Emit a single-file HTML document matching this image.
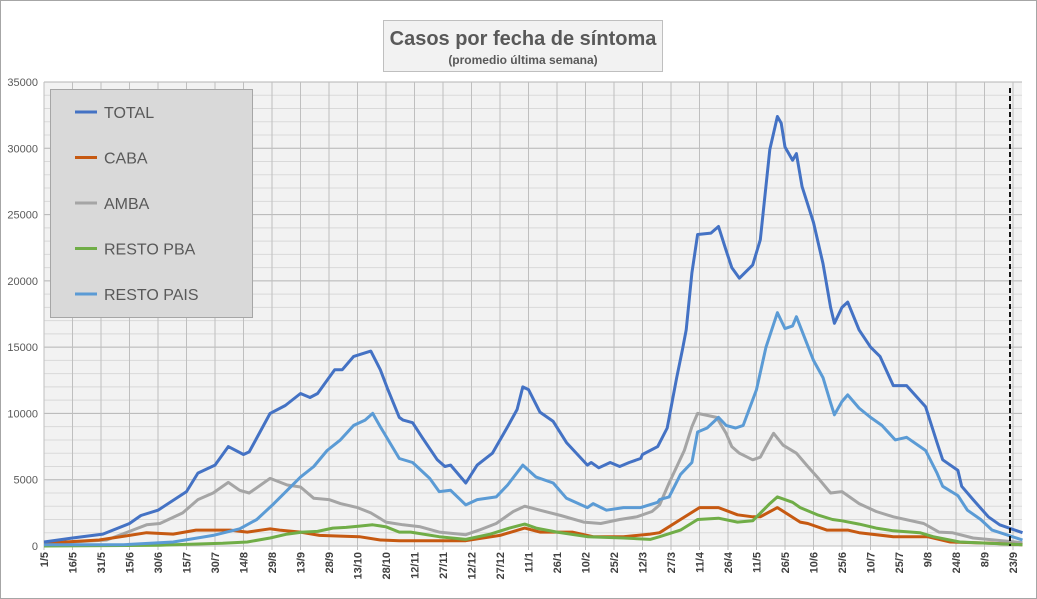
<!DOCTYPE html>
<html><head><meta charset="utf-8"><style>
html,body{margin:0;padding:0;background:#fff;}
svg{display:block;font-family:"Liberation Sans",sans-serif;}
</style></head><body>
<svg id="chart" width="1037" height="599" viewBox="0 0 1037 599">
<rect x="0.5" y="0.5" width="1036" height="598" fill="#fff" stroke="#a6a6a6"/>
<rect x="44" y="82" width="978" height="464" fill="#f2f2f2"/>
<g id="grid"></g>
<g id="yticks"></g>
<g id="xticks"></g>
<g id="series"></g>
<line x1="1010" y1="88" x2="1010" y2="546" stroke="#111" stroke-width="2" stroke-dasharray="5,3"/>
<g>
<rect x="383.5" y="20.5" width="279" height="51" fill="#f2f2f2" stroke="#bfbfbf"/>
<text x="523" y="45" text-anchor="middle" font-size="20" font-weight="bold" fill="#595959">Casos por fecha de síntoma</text>
<text x="523" y="64" text-anchor="middle" font-size="12" font-weight="bold" fill="#595959">(promedio última semana)</text>
</g>
<g id="legend">
<rect x="50.5" y="89.5" width="202" height="228" fill="#d9d9d9" stroke="#a6a6a6"/>
</g>
</svg>
<script>
const yTicks=[0,5000,10000,15000,20000,25000,30000,35000];
const xLabels=["1/5","16/5","31/5","15/6","30/6","15/7","30/7","14/8","29/8","13/9","28/9","13/10","28/10","12/11","27/11","12/12","27/12","11/1","26/1","10/2","25/2","12/3","27/3","11/4","26/4","11/5","26/5","10/6","25/6","10/7","25/7","9/8","24/8","8/9","23/9"];
const seriesNames=["TOTAL","CABA","AMBA","RESTO PBA","RESTO PAIS"];
const totalDays=[0,15,31,45,51,60,75,81,90,97,105,108,119,127,135,140,144,153,157,163,172,177,181,187,189,194,199,207,211,214,222,228,236,244,249,252,255,261,268,275,286,288,292,298,303,308,314,315,323,328,333,336,338,341,344,351,355,359,362,366,373,377,382,386,388,390,394,396,399,405,410,414,416,420,423,429,435,440,447,454,464,470,473,481,483,489,497,503,515];
const totalVals=[300,600,900,1700,2300,2700,4100,5500,6100,7500,6900,7100,10000,10600,11500,11200,11500,13300,13300,14300,14700,13300,11800,9700,9500,9300,8200,6500,6000,6100,4750,6100,7000,9000,10300,12000,11800,10100,9400,7800,6100,6300,5900,6300,6000,6300,6600,6900,7500,8900,12700,14800,16300,20600,23500,23600,24100,22300,21000,20200,21200,23100,29900,32400,31900,30100,29100,29600,27100,24400,21300,18000,16800,18000,18400,16300,15000,14300,12100,12100,10500,7800,6500,5700,4500,3500,2200,1600,1000];
const paisDays=[0,42,68,89,103,112,121,128,135,142,149,156,163,169,173,177,182,187,194,203,208,214,222,228,238,244,252,259,268,275,286,289,296,305,314,323,324,329,335,341,344,349,355,359,364,368,375,380,386,390,394,396,405,410,414,416,420,423,429,435,441,448,454,464,470,473,481,486,493,499,515];
const paisVals=[100,100,300,800,1300,2000,3200,4200,5200,6000,7200,8000,9100,9500,10000,9000,7800,6600,6300,5100,4100,4200,3100,3500,3700,4600,6100,5200,4750,3600,2900,3200,2700,2900,2900,3300,3500,3700,5400,6300,8600,8900,9700,9100,8900,9100,11800,15000,17600,16400,16600,17300,14000,12700,10800,9900,10900,11400,10400,9700,9100,8000,8200,7200,5500,4500,3800,2700,2000,1200,450];
const ambaDays=[0,15,33,45,54,61,73,81,89,97,103,108,119,128,135,142,150,156,165,172,180,189,198,208,222,229,238,247,253,261,272,284,293,303,312,320,324,329,337,341,344,354,359,362,366,373,377,380,384,389,396,402,407,414,420,429,438,447,463,471,478,489,515];
const ambaVals=[200,300,450,1100,1600,1700,2500,3500,4000,4800,4200,4000,5100,4600,4450,3600,3500,3200,2900,2500,1800,1600,1450,1050,850,1200,1700,2600,3000,2700,2300,1800,1700,2000,2200,2600,3100,4750,7200,9000,10000,9700,8500,7500,7000,6500,6700,7500,8500,7600,7000,6000,5200,4000,4100,3200,2600,2200,1700,1050,1000,600,250];
const cabaDays=[0,29,45,54,68,80,89,98,107,119,124,135,145,156,166,177,187,199,222,240,253,261,278,289,305,319,324,335,345,355,365,373,377,386,398,402,412,423,429,447,465,477,499,515];
const cabaVals=[200,450,800,1000,900,1200,1200,1200,1050,1300,1200,1050,800,750,700,450,400,400,400,800,1350,1050,1050,700,700,900,1000,2000,2900,2900,2350,2200,2200,2900,1800,1700,1200,1200,1000,700,700,300,200,100];
const pbaDays=[0,61,68,94,107,119,128,136,144,152,159,166,173,180,187,193,208,222,235,245,253,259,270,286,305,319,324,335,344,355,365,373,382,386,394,398,407,415,420,429,438,447,461,468,482,515];
const pbaVals=[0,50,100,200,300,600,900,1050,1100,1350,1400,1500,1600,1450,1050,1050,700,500,900,1350,1650,1350,1050,700,600,500,700,1200,2000,2100,1800,1900,3200,3700,3300,2900,2350,2000,1900,1650,1350,1150,1000,700,300,100];
const colors=["#4472c4","#c65911","#a5a5a5","#70ad47","#5b9bd5"];

const X0=44,X1=1022,Y0=546,Y1=82,YMAX=35000,DSTEP=15,XSTEP=28.5;
function xs(d){return X0+d/DSTEP*XSTEP;}
function ys(v){return Y0-(v/YMAX)*(Y0-Y1);}
const NS="http://www.w3.org/2000/svg";
function mk(tag,parent){const e=document.createElementNS(NS,tag);parent.appendChild(e);return e;}

const grid=document.getElementById('grid');
for(let v=1000;v<=YMAX;v+=1000){
  const l=mk('line',grid);
  
  
  l.setAttribute('x1',X0);l.setAttribute('x2',X1);l.setAttribute('y1',ys(v));l.setAttribute('y2',ys(v));
  l.setAttribute('stroke',v%5000===0?'#b4b4b4':'#d9d9d9');l.setAttribute('stroke-width','1');
}
xLabels.forEach((lab,i)=>{
  const l=mk('line',grid);
  
  
  const x=xs(i*DSTEP);
  l.setAttribute('x1',x);l.setAttribute('x2',x);l.setAttribute('y1',Y1);l.setAttribute('y2',Y0+4);
  l.setAttribute('stroke','#bfbfbf');
});
const ax=mk('line',grid);


ax.setAttribute('x1',X0);ax.setAttribute('x2',X1);ax.setAttribute('y1',Y0);ax.setAttribute('y2',Y0);ax.setAttribute('stroke','#bfbfbf');

const yt=document.getElementById('yticks');
yTicks.forEach(v=>{
  const t=mk('text',yt);
  
  
  t.setAttribute('x',38);t.setAttribute('y',ys(v)+4);t.setAttribute('text-anchor','end');
  t.setAttribute('font-size','11');t.setAttribute('fill','#595959');t.textContent=v;
});
const xt=document.getElementById('xticks');
xLabels.forEach((lab,i)=>{
  const t=mk('text',xt);
  
  
  const x=xs(i*DSTEP)+4,y=552;
  t.setAttribute('x',x);t.setAttribute('y',y);t.setAttribute('text-anchor','end');
  t.setAttribute('transform','rotate(-90 '+x+' '+y+')');
  t.setAttribute('font-size','11');t.setAttribute('font-weight','bold');t.setAttribute('fill','#404040');
  t.textContent=lab;
});

const sg=document.getElementById('series');
const dataSets=[[totalDays,totalVals],[cabaDays,cabaVals],[ambaDays,ambaVals],[pbaDays,pbaVals],[paisDays,paisVals]];
const order=[2,1,3,4,0];
order.forEach(k=>{
  const [d,v]=dataSets[k];
  const p=mk('polyline',sg);
  
  
  p.setAttribute('points',d.map((dd,i)=>xs(dd).toFixed(1)+','+ys(v[i]).toFixed(1)).join(' '));
  p.setAttribute('fill','none');p.setAttribute('stroke',colors[k]);p.setAttribute('stroke-width','3');
  p.setAttribute('stroke-linejoin','round');
});

const lg=document.getElementById('legend');
seriesNames.forEach((n,i)=>{
  const y=112+i*45.5;
  const l=mk('line',lg);
  
  
  l.setAttribute('x1',75);l.setAttribute('x2',97);l.setAttribute('y1',y);l.setAttribute('y2',y);
  l.setAttribute('stroke',colors[i]);l.setAttribute('stroke-width','3');
  const t=mk('text',lg);
  
  
  t.setAttribute('x',104);t.setAttribute('y',y+6);t.setAttribute('font-size','16');t.setAttribute('fill','#595959');
  t.textContent=n;
});
</script>
</body></html>
